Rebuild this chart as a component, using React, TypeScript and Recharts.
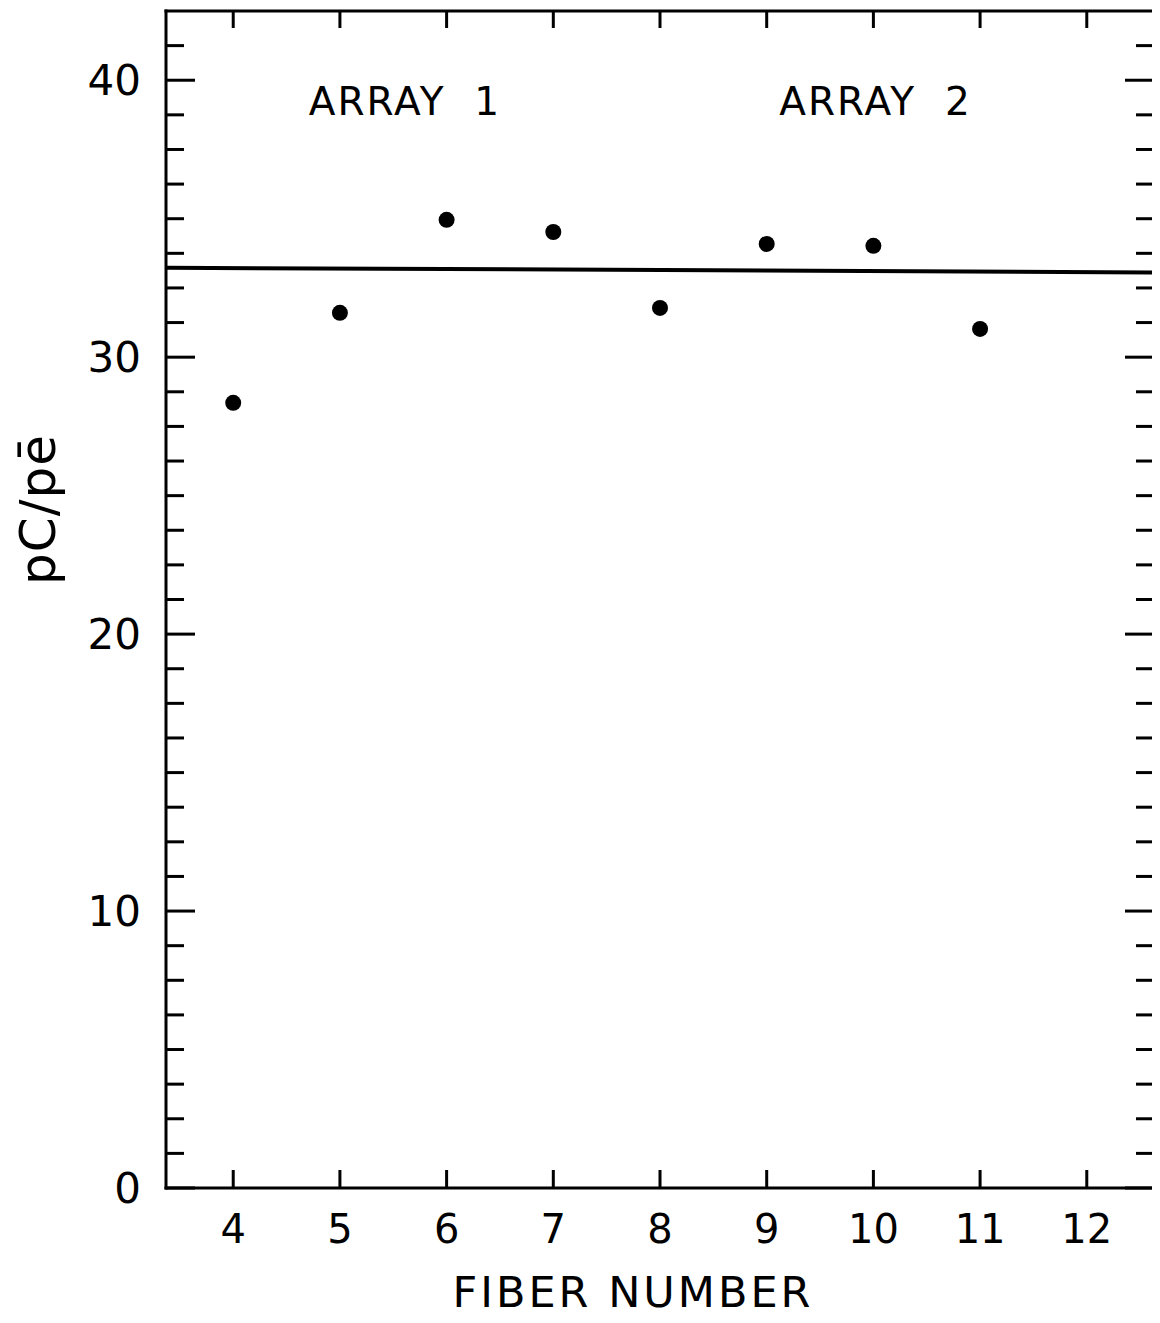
import React from 'react';
import { ScatterChart, Scatter, XAxis, YAxis, ReferenceLine, ReferenceDot, Label } from 'recharts';

// ---- data ----
const fiberNumbers = [4, 5, 6, 7, 8, 9, 10, 11];
const pcPerPe = [28.35, 31.6, 34.96, 34.52, 31.78, 34.09, 34.02, 31.02];

const xTicks = [4, 5, 6, 7, 8, 9, 10, 11, 12];
const yMajorTicks = [0, 10, 20, 30, 40];
const yAllTicks = [
  0, 1.25, 2.5, 3.75, 5, 6.25, 7.5, 8.75,
  10, 11.25, 12.5, 13.75, 15, 16.25, 17.5, 18.75,
  20, 21.25, 22.5, 23.75, 25, 26.25, 27.5, 28.75,
  30, 31.25, 32.5, 33.75, 35, 36.25, 37.5, 38.75,
  40, 41.25,
];
const xDomain = [3.37, 12.63];
const yDomain = [0, 42.5];

const meanLineX = [3.37, 12.63];
const meanLineY = [33.23, 33.06];

const annotationX = [5.61, 10.02];
const annotationY = [39.24, 39.24];
const annotationText = ['ARRAY  1', 'ARRAY  2'];

const xTitle = 'FIBER NUMBER';
const yTitle = 'pC/pē';

// ---- built tables ----
const points = fiberNumbers.map((f, i) => ({ x: f, y: pcPerPe[i] }));
const meanSegment = meanLineX.map((x, i) => ({ x, y: meanLineY[i] }));
const annotations = annotationX.map((x, i) => ({ x, y: annotationY[i], text: annotationText[i] }));

const FONT = '"DejaVu Sans", sans-serif';
const INK = '#000';
const axisLineStyle = { stroke: INK, strokeWidth: 3, strokeLinecap: 'square' as const };

const LeftTick = (props: any) => {
  const { x, y, payload } = props;
  const major = yMajorTicks.includes(payload.value);
  return (
    <g>
      <line x1={x} x2={x + (major ? 29 : 18)} y1={y} y2={y} stroke={INK} strokeWidth={3} />
      {major && (
        <text x={x - 25} y={y} dy="0.36em" textAnchor="end" fontSize={42} fontFamily={FONT} fill={INK}>
          {payload.value}
        </text>
      )}
    </g>
  );
};

const RightTick = (props: any) => {
  const { x, y, payload } = props;
  const major = yMajorTicks.includes(payload.value);
  return <line x1={x - (major ? 29 : 18)} x2={x} y1={y} y2={y} stroke={INK} strokeWidth={3} />;
};

const TopTick = (props: any) => {
  const { x, y } = props;
  return <line x1={x} x2={x} y1={y} y2={y + 17} stroke={INK} strokeWidth={3} />;
};

const BottomTick = (props: any) => {
  const { x, y, payload } = props;
  return (
    <g>
      <line x1={x} x2={x} y1={y} y2={y - 18} stroke={INK} strokeWidth={3} />
      <text x={x} y={y + 27} dy="0.71em" textAnchor="middle" fontSize={40} fontFamily={FONT} fill={INK}>
        {payload.value}
      </text>
    </g>
  );
};

const Dot = (props: any) => {
  const { cx, cy } = props;
  return <circle cx={cx} cy={cy} r={8} fill={INK} />;
};

export default function App() {
  return (
    <div style={{ width: 1150, height: 1307, background: '#fff' }}>
      <style>{`.recharts-surface{overflow:visible}`}</style>
      <ScatterChart
        width={1150}
        height={1307}
        margin={{ top: 2, right: 3, bottom: 0, left: 58 }}
        style={{ fontFamily: FONT }}
      >
        <XAxis
          xAxisId="bottom"
          dataKey="x"
          type="number"
          orientation="bottom"
          domain={xDomain}
          allowDataOverflow
          ticks={xTicks}
          interval={0}
          height={127}
          tickSize={0}
          tickMargin={0}
          tickLine={false}
          axisLine={axisLineStyle}
          tick={(p: any) => <BottomTick {...p} />}
        >
          <Label
            content={(p: any) => {
              const vb = p.viewBox;
              return (
                <text
                  x={vb.x + vb.width / 2 - 27}
                  y={vb.y + 119}
                  textAnchor="middle"
                  fontSize={43}
                  letterSpacing={3}
                  fontFamily={FONT}
                  fill={INK}
                >
                  {xTitle}
                </text>
              );
            }}
          />
        </XAxis>
        <XAxis
          xAxisId="top"
          dataKey="x"
          type="number"
          orientation="top"
          domain={xDomain}
          allowDataOverflow
          ticks={xTicks}
          interval={0}
          height={1}
          tickSize={0}
          tickMargin={0}
          tickLine={false}
          axisLine={axisLineStyle}
          tick={(p: any) => <TopTick {...p} />}
        />
        <YAxis
          yAxisId="left"
          dataKey="y"
          type="number"
          orientation="left"
          domain={yDomain}
          allowDataOverflow
          ticks={yAllTicks}
          interval={0}
          width={100}
          tickSize={0}
          tickMargin={0}
          tickLine={false}
          axisLine={axisLineStyle}
          tick={(p: any) => <LeftTick {...p} />}
        >
          <Label
            content={(p: any) => {
              const vb = p.viewBox;
              const cx = vb.x - 11;
              const cy = vb.y + vb.height / 2 - 90;
              return (
                <text
                  x={cx}
                  y={cy}
                  transform={`rotate(-90, ${cx}, ${cy})`}
                  textAnchor="middle"
                  fontSize={50}
                  letterSpacing={1}
                  fontFamily={FONT}
                  fill={INK}
                >
                  {yTitle}
                </text>
              );
            }}
          />
        </YAxis>
        <YAxis
          yAxisId="right"
          dataKey="y"
          type="number"
          orientation="right"
          domain={yDomain}
          allowDataOverflow
          ticks={yAllTicks}
          interval={0}
          width={1}
          tickSize={0}
          tickMargin={0}
          tickLine={false}
          axisLine={axisLineStyle}
          tick={(p: any) => <RightTick {...p} />}
        />

        <ReferenceLine
          xAxisId="bottom"
          yAxisId="left"
          segment={meanSegment}
          stroke={INK}
          strokeWidth={4}
          ifOverflow="visible"
        />

        {annotations.map((a) => (
          <ReferenceDot
            key={a.text}
            xAxisId="bottom"
            yAxisId="left"
            x={a.x}
            y={a.y}
            r={0}
            fill="none"
            stroke="none"
            ifOverflow="visible"
            label={{
              content: (p: any) => {
                const vb = p.viewBox;
                return (
                  <text
                    x={vb.x + (vb.width || 0) / 2}
                    y={vb.y + (vb.height || 0) / 2}
                    dy="0.36em"
                    textAnchor="middle"
                    fontSize={39}
                    letterSpacing={2}
                    fontFamily={FONT}
                    fill={INK}
                    style={{ whiteSpace: 'pre' }}
                  >
                    {a.text}
                  </text>
                );
              },
            }}
          />
        ))}

        <Scatter
          xAxisId="bottom"
          yAxisId="left"
          data={points}
          shape={(p: any) => <Dot {...p} />}
          isAnimationActive={false}
        />
      </ScatterChart>
    </div>
  );
}
